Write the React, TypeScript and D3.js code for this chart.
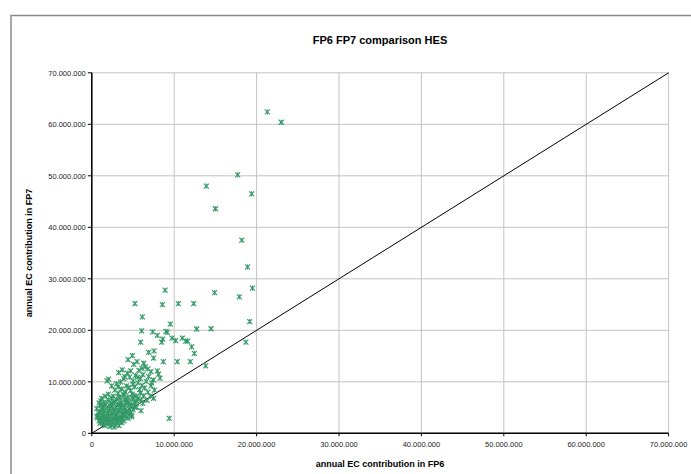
import React from "react";
import * as d3 from "d3";

// FP6 (x) vs FP7 (y) annual EC contribution, in millions of EUR
const fp6: number[] = [
  21.3, 23.0, 13.9, 17.7, 15.0, 19.4, 18.2, 18.9, 14.9, 19.5, 17.9, 8.9,
  5.24, 8.56, 10.5, 12.36, 6.13, 6.05, 9.53, 7.39, 7.95, 9.0, 9.17, 12.73, 14.47, 19.16,
  5.93, 8.6, 8.48, 9.73, 10.98, 10.18, 11.4, 11.64, 12.12, 12.44, 18.7, 4.92, 6.9, 7.55,
  7.5, 8.68, 10.38, 11.96, 13.82, 9.4, 3.63, 4.84, 4.84, 5.97, 4.72,
  7.18, 7.95, 8.1, 8.28, 7.47, 7.27, 6.3, 6.5, 6.09, 5.08, 3.26, 2.05, 1.84, 2.94,
  3.0, 3.5, 3.9, 4.2, 4.6, 5.0, 5.3, 5.6, 5.9, 6.2, 6.6, 6.9, 7.2, 6.4, 5.8, 5.2, 4.7,
  4.1, 3.6, 3.2, 2.8, 2.6, 3.4, 3.9, 4.4, 4.9, 5.4, 5.9, 6.3, 6.8, 7.1, 6.0, 5.5, 5.0,
  4.5, 4.0, 3.5, 3.0, 2.6, 4.8, 5.3, 6.2, 6.7, 7.5, 7.6, 5.7, 4.3, 6.8, 3.7, 5.5, 4.4,
  0.8, 1.0, 1.1, 1.2, 1.3, 1.4, 1.5, 1.6, 1.7, 1.8, 1.9, 2.0, 2.1, 2.2, 2.3, 2.4, 2.5,
  2.6, 2.7, 2.8, 2.9, 3.0, 3.1, 3.2, 3.3, 3.4, 3.5, 3.6, 3.7, 3.8, 3.9, 4.0, 4.1, 4.2,
  4.3, 4.5, 4.6, 4.8, 5.0, 5.2, 1.1, 1.5, 2.0, 2.4, 1.3, 0.9, 1.6, 2.2, 2.7, 1.9, 2.5,
  3.0, 3.3, 1.2, 1.8, 2.1, 2.6, 3.2, 3.6, 4.1, 1.4, 2.9, 3.5, 4.4, 0.7, 1.0,
  0.6, 0.9, 1.2, 1.6, 2.0, 2.3, 1.4, 0.8, 1.1, 1.7, 2.0, 2.3, 2.6, 2.9, 3.1, 3.4,
  3.7, 4.0, 4.3, 4.6, 4.9, 5.1, 3.9, 4.2, 4.7, 5.4, 5.6, 1.5, 1.9, 2.2, 2.8, 3.3,
  3.8, 4.5, 5.0, 5.6, 6.1, 3.2, 2.4, 4.0, 1.3, 1.7, 2.4, 3.1, 3.7, 0.6, 1.0,
];
const fp7: number[] = [
  62.4, 60.4, 48.0, 50.2, 43.6, 46.5, 37.5, 32.3, 27.3, 28.2, 26.5, 27.8,
  25.2, 25.0, 25.2, 25.2, 22.6, 19.9, 21.2, 19.7, 19.0, 19.8, 19.6, 20.25, 20.3, 21.7,
  17.7, 18.3, 17.7, 18.5, 18.5, 18.0, 17.9, 17.9, 16.8, 15.5, 17.7, 15.1, 15.7, 16.0,
  14.6, 13.9, 13.9, 13.9, 13.1, 2.9, 2.06, 3.55, 3.2, 4.4, 12.1,
  11.96, 12.1, 11.5, 10.7, 10.35, 9.8, 13.6, 12.9, 12.6, 13.4, 11.8, 10.5, 10.2, 2.6,
  9.6, 10.0, 10.6, 9.2, 10.9, 10.2, 11.2, 9.8, 10.6, 11.4, 10.1, 11.0, 9.2, 8.8, 8.5, 9.0, 8.3,
  8.0, 8.6, 7.8, 8.4, 7.2, 7.0, 7.4, 7.0, 7.6, 7.2, 7.8, 7.3, 8.0, 7.2, 6.5, 6.2, 6.6,
  6.0, 6.4, 6.0, 6.6, 6.0, 5.5, 5.2, 5.8, 6.4, 6.8, 8.4, 12.2, 11.7, 12.5, 12.3, 13.9, 14.3,
  3.5, 4.2, 2.8, 5.0, 3.6, 2.2, 4.5, 3.0, 5.6, 2.6, 4.0, 3.3, 1.8, 4.8, 2.4, 3.8, 5.2,
  2.0, 3.0, 4.4, 1.6, 3.6, 5.6, 2.5, 4.2, 3.1, 4.9, 2.8, 3.8, 5.4, 2.4, 4.5, 3.3, 5.8,
  4.0, 4.8, 3.7, 5.2, 4.6, 6.0, 6.3, 6.0, 6.5, 6.8, 1.9, 2.4, 1.5, 1.3, 1.2, 2.2, 2.8,
  2.0, 1.5, 4.6, 3.4, 4.2, 3.9, 4.6, 5.8, 6.6, 3.2, 5.0, 2.2, 2.9, 3.0, 5.5,
  4.8, 5.9, 6.8, 7.2, 7.6, 5.8, 5.3, 4.0, 3.1, 2.8, 2.7, 3.3, 4.6, 3.4, 4.0, 5.5,
  4.4, 5.1, 6.2, 5.6, 6.9, 7.3, 3.4, 4.2, 4.1, 5.0, 6.8, 3.8, 4.9, 5.4, 6.2, 6.9,
  7.6, 8.9, 9.5, 10.9, 9.3, 9.0, 9.2, 11.0, 2.5, 1.9, 1.6, 2.9, 3.1, 3.3, 2.0,
];
const tickValues: number[] = [0, 10, 20, 30, 40, 50, 60, 70];

const title = "FP6 FP7 comparison HES";
const xTitle = "annual EC contribution in FP6";
const yTitle = "annual EC contribution in FP7";

const fmt = (v: number) => {
  if (v === 0) return "0";
  const s = String(Math.round(v * 1e6));
  return s.replace(/\B(?=(\d{3})+(?!\d))/g, ".");
};

export default function App() {
  const W = 691, H = 474;
  const left = 91.8, right = 668.6, top = 72.8, bottom = 433.3;
  const x = d3.scaleLinear().domain([0, 70]).range([left, right]);
  const y = d3.scaleLinear().domain([0, 70]).range([bottom, top]);
  const points = fp6.map((v, i) => [v, fp7[i]] as [number, number]);
  const font = "'Liberation Sans', Arial, sans-serif";
  const green = "#339966";
  const ms = 2.5;
  return (
    <svg width={W} height={H} style={{ position: "absolute", left: 0, top: 0, background: "#fff" }} fontFamily={font}>
      <rect x={0} y={0} width={W} height={H} fill="#fff" />
      <rect x={11} y={15.5} width={W + 20} height={H + 20} fill="none" stroke="#8a8a8a" strokeWidth={1.5} />
      <text x={380} y={44} textAnchor="middle" fontWeight="bold" fontSize={11} fill="#000">{title}</text>
      {tickValues.map((t) => (
        <g key={"g" + t}>
          <line x1={x(t)} x2={x(t)} y1={top} y2={bottom} stroke="#c4c4c4" strokeWidth={1} />
          <line x1={left} x2={right} y1={y(t)} y2={y(t)} stroke="#c4c4c4" strokeWidth={1} />
        </g>
      ))}
      {tickValues.map((t) => (
        <g key={"t" + t}>
          <line x1={left - 4} x2={left} y1={y(t)} y2={y(t)} stroke="#000" strokeWidth={1} />
          <text x={left - 6} y={y(t) + 3} textAnchor="end" fontSize={7.5} fill="#222">{fmt(t)}</text>
          <line x1={x(t)} x2={x(t)} y1={bottom} y2={bottom + 3} stroke="#000" strokeWidth={1} />
          <text x={x(t)} y={bottom + 14} textAnchor="middle" fontSize={7.5} fill="#222">{fmt(t)}</text>
        </g>
      ))}
      <line x1={x(0)} y1={y(0)} x2={x(70)} y2={y(70)} stroke="#000" strokeWidth={1} />
      {points.map(([a, b], i) => {
        const cx = x(a), cy = y(b);
        return (
          <g key={"p" + i} stroke={green} strokeWidth={1.1}>
            <line x1={cx - ms} y1={cy - ms} x2={cx + ms} y2={cy + ms} />
            <line x1={cx - ms} y1={cy + ms} x2={cx + ms} y2={cy - ms} />
            <line x1={cx} y1={cy - ms} x2={cx} y2={cy + ms} />
          </g>
        );
      })}
      <line x1={left} x2={left} y1={top} y2={bottom} stroke="#000" strokeWidth={1.5} />
      <line x1={left} x2={right} y1={bottom} y2={bottom} stroke="#000" strokeWidth={1.5} />
      <text x={380} y={467} textAnchor="middle" fontWeight="bold" fontSize={9} fill="#000">{xTitle}</text>
      <text transform={`translate(32,${(top + bottom) / 2}) rotate(-90)`} textAnchor="middle" fontWeight="bold" fontSize={9} fill="#000">{yTitle}</text>
    </svg>
  );
}
